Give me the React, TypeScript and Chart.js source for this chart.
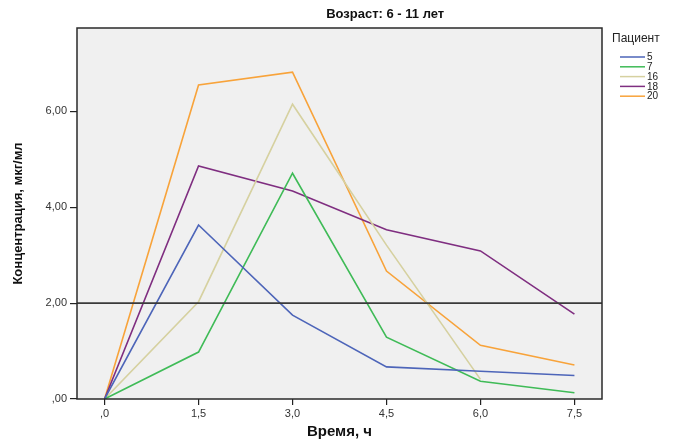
import React, { useEffect, useRef } from 'react';
import { Chart, registerables } from 'chart.js';

Chart.register(...registerables);

// ---- Data ----
const chartTitle = 'Возраст: 6 - 11 лет';
const xAxisTitle = 'Время, ч';
const yAxisTitle = 'Концентрация, мкг/мл';
const legendTitle = 'Пациент';

const times = [0, 1.5, 3.0, 4.5, 6.0, 7.5];
const patientLabels = ['5', '7', '16', '18', '20'];
const patient5 = [0, 3.63, 1.75, 0.67, 0.58, 0.49];
const patient7 = [0, 0.98, 4.71, 1.29, 0.37, 0.13];
const patient16 = [0, 2.03, 6.15, 3.21, 0.41, null];
const patient18 = [0, 4.86, 4.34, 3.53, 3.09, 1.77];
const patient20 = [0, 6.55, 6.82, 2.67, 1.12, 0.71];
const seriesValues = [patient5, patient7, patient16, patient18, patient20];
const seriesColors = ['#4d65b9', '#3fbb57', '#d6d1a0', '#7f2e80', '#f8a33a'];

const xTicks = [0, 1.5, 3.0, 4.5, 6.0, 7.5];
const yTicks = [0, 2, 4, 6];
const referenceValue = 2;

const FONT = '"Liberation Sans", Arial, sans-serif';

const fmtX = (v: number) => v.toFixed(1).replace('.', ',').replace(/^0,/, ',');
const fmtY = (v: number) => v.toFixed(2).replace('.', ',').replace(/^0,/, ',');

const decorPlugin = {
  id: 'decor',
  beforeDraw(chart: any) {
    const { ctx, chartArea: a } = chart;
    ctx.save();
    ctx.fillStyle = '#f0f0f0';
    ctx.fillRect(a.left, a.top, a.right - a.left, a.bottom - a.top);
    ctx.restore();
  },
  afterDatasetsDraw(chart: any) {
    const { ctx, chartArea: a, scales } = chart;
    const y = scales.y.getPixelForValue(referenceValue);
    ctx.save();
    ctx.strokeStyle = '#3a3a3a';
    ctx.lineWidth = 1.6;
    ctx.beginPath();
    ctx.moveTo(a.left, y);
    ctx.lineTo(a.right, y);
    ctx.stroke();
    // frame
    ctx.strokeStyle = '#2a2a2a';
    ctx.lineWidth = 1.5;
    ctx.strokeRect(a.left, a.top, a.right - a.left, a.bottom - a.top);
    ctx.restore();
  },
  afterDraw(chart: any) {
    const { ctx, chartArea: a } = chart;
    ctx.save();
    // title
    ctx.fillStyle = '#111';
    ctx.font = `bold 13px ${FONT}`;
    ctx.textAlign = 'center';
    ctx.textBaseline = 'middle';
    ctx.fillText(chartTitle, a.left + (a.right - a.left) * 0.587, 14);
    // legend
    const lx = a.right + 10;
    ctx.textAlign = 'left';
    ctx.font = `12px ${FONT}`;
    ctx.fillStyle = '#222';
    ctx.fillText(legendTitle, lx, a.top + 11);
    ctx.font = `10px ${FONT}`;
    chart.data.datasets.forEach((ds: any, i: number) => {
      const yy = a.top + 29 + i * 9.8;
      ctx.strokeStyle = ds.borderColor;
      ctx.lineWidth = 1.5;
      ctx.beginPath();
      ctx.moveTo(lx + 8, yy);
      ctx.lineTo(lx + 33, yy);
      ctx.stroke();
      ctx.fillStyle = '#222';
      ctx.fillText(ds.label, lx + 35, yy + 0.5);
    });
    ctx.restore();
  },
};

export default function App() {
  const ref = useRef<HTMLCanvasElement>(null);
  useEffect(() => {
    if (!ref.current) return;
    const datasets = seriesValues.map((vals, i) => ({
      label: patientLabels[i],
      data: times
        .map((t, j) => ({ x: t, y: vals[j] }))
        .filter((p) => p.y !== null),
      borderColor: seriesColors[i],
      backgroundColor: seriesColors[i],
      borderWidth: 1.6,
      pointRadius: 0,
      tension: 0,
      fill: false,
    }));
    const chart = new Chart(ref.current, {
      type: 'line',
      data: { datasets },
      plugins: [decorPlugin],
      options: {
        animation: false,
        responsive: false,
        devicePixelRatio: 1,
        layout: { padding: { top: 28, right: 74, left: 0, bottom: 0 } },
        plugins: {
          legend: { display: false },
          title: { display: false },
          tooltip: { enabled: false },
        },
        scales: {
          x: {
            type: 'linear',
            min: -0.44,
            max: 7.94,
            afterBuildTicks: (s: any) => {
              s.ticks = xTicks.map((v) => ({ value: v }));
            },
            afterFit: (s: any) => {
              s.height = 44;
            },
            grid: { drawOnChartArea: false, drawTicks: true, tickLength: 6, color: '#222', lineWidth: 1.2 },
            border: { display: false },
            ticks: {
              autoSkip: false,
              maxRotation: 0,
              padding: 2,
              color: '#333',
              font: { family: FONT, size: 11 },
              callback: (v: any) => fmtX(Number(v)),
            },
            title: {
              display: true,
              text: xAxisTitle,
              color: '#111',
              font: { family: FONT, size: 15, weight: 'bold' },
              padding: { top: 0, bottom: 2 },
            },
          },
          y: {
            type: 'linear',
            min: 0,
            max: 7.74,
            afterBuildTicks: (s: any) => {
              s.ticks = yTicks.map((v) => ({ value: v }));
            },
            afterFit: (s: any) => {
              s.width = 77;
            },
            grid: { drawOnChartArea: false, drawTicks: true, tickLength: 7, color: '#222', lineWidth: 1.2 },
            border: { display: false },
            ticks: {
              autoSkip: false,
              padding: 3,
              color: '#333',
              font: { family: FONT, size: 11 },
              callback: (v: any) => fmtY(Number(v)),
            },
            title: {
              display: true,
              text: yAxisTitle,
              color: '#111',
              font: { family: FONT, size: 13, weight: 'bold' },
              padding: { top: 11, bottom: 0 },
            },
          },
        },
      },
    });
    return () => chart.destroy();
  }, []);
  return (
    <div style={{ position: 'fixed', left: 0, top: 0, width: 676, height: 443, background: '#fff' }}>
      <canvas ref={ref} width={676} height={443} style={{ width: 676, height: 443, display: 'block' }} />
    </div>
  );
}
